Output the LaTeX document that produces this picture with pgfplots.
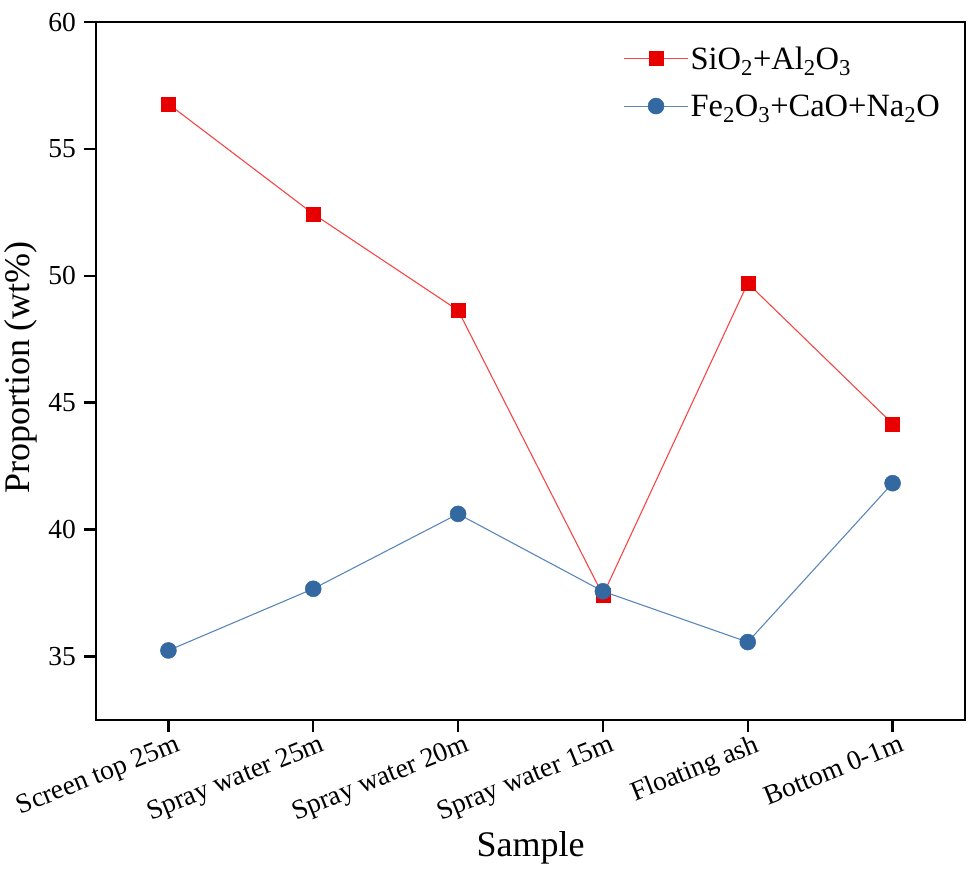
\documentclass[border=0pt]{standalone}
\usepackage{pgfplots}
\pgfplotsset{compat=1.18}
\usepackage{fontspec}
\setmainfont{Liberation Serif}
\definecolor{mred}{RGB}{232,0,0}
\definecolor{lred}{RGB}{245,70,70}
\definecolor{mblue}{RGB}{52,104,160}
\definecolor{lblue}{RGB}{90,135,185}
\begin{document}
\begin{tikzpicture}
\path[use as bounding box] (-96pt,-155pt) rectangle (873pt,720pt);
\begin{axis}[
  at={(0pt,0pt)}, anchor=south west,
  scale only axis, width=869pt, height=698pt,
  xmin=-0.5, xmax=5.5, ymin=32.5, ymax=60,
  xtick={0,1,2,3,4,5},
  xticklabels={Screen top 25m,Spray water 25m,Spray water 20m,Spray water 15m,Floating ash,Bottom 0-1m},
  ytick={35,40,45,50,55,60},
  tick align=outside, tick pos=left, major tick length=12pt,
  axis line style={line width=2.5pt},
  every tick/.style={line width=2.5pt, black},
  /pgf/number format/assume math mode=true,
  tick label style={font=\fontsize{27.5}{27.5}\selectfont},
  xticklabel style={rotate=22, anchor=north east, inner sep=3pt, xshift=8pt},
  yticklabel style={inner sep=8pt},
  xlabel={Sample}, ylabel={Proportion (wt\%)},
  label style={font=\fontsize{36}{36}\selectfont},
  xlabel style={at={(axis description cs:0.5,-0.183)}, anchor=center},
  ylabel style={at={(axis description cs:-0.086,0.505)}, anchor=center},
  legend style={draw=none, fill=none, at={(axis description cs:0.9735,0.968)}, anchor=north east,
    font=\fontsize{32.5}{32.5}\selectfont, row sep=20pt, inner sep=0pt},
  legend cell align=left,
  legend image code/.code={\draw[mark repeat=2,mark phase=2,#1] plot coordinates {(-8pt,0pt)(24pt,0pt)(56pt,0pt)};},
]
\addplot[lred, line width=1.1pt, mark=square*, mark size=7pt, mark options={fill=mred, draw=mred, line width=0.5pt}]
  coordinates {(0,56.77) (1,52.44) (2,48.64) (3,37.42) (4,49.71) (5,44.17)};
\addlegendentry{SiO\textsubscript{2}+Al\textsubscript{2}O\textsubscript{3}}
\addplot[lblue, line width=1.1pt, mark=*, mark size=8pt, mark options={fill=mblue, draw=mblue, line width=0.5pt}]
  coordinates {(0,35.24) (1,37.67) (2,40.62) (3,37.57) (4,35.57) (5,41.83)};
\addlegendentry{Fe\textsubscript{2}O\textsubscript{3}+CaO+Na\textsubscript{2}O}
\end{axis}
\end{tikzpicture}
\end{document}
